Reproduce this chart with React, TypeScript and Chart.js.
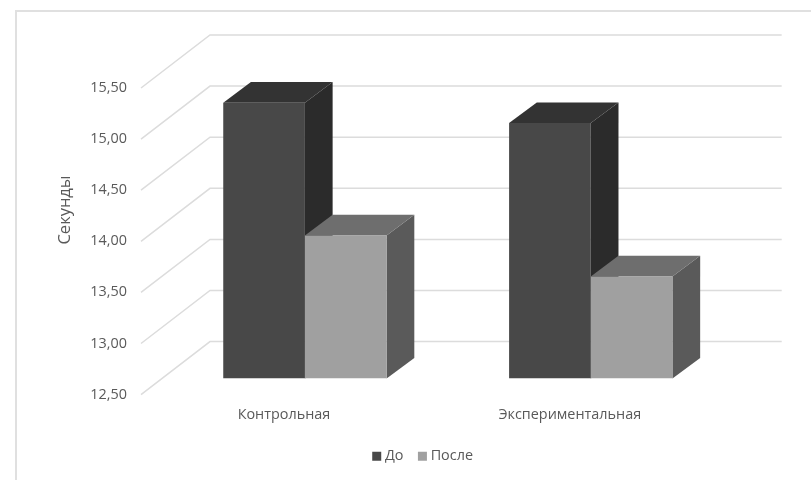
import React, { useEffect, useRef } from "react";
import { Chart, registerables } from "chart.js";

Chart.register(...registerables);

const categories = ["Контрольная", "Экспериментальная"];
const seriesNames = ["До", "После"];
const beforeValues = [15.2, 15.0];
const afterValues = [13.9, 13.5];
const axisTitle = "Секунды";
const axisMin = 12.5;
const axisMax = 15.5;

const FONT = '"Open Sans", sans-serif';
const TEXT = "#595959";
const GRID = "#dcdcdc";

// Per-series shades for the three visible faces of each box.
const frontColors = ["#484848", "#a0a0a0"];
const topColors = ["#333333", "#6e6e6e"];
const sideColors = ["#2b2b2b", "#5a5a5a"];

// Perspective offsets relative to the plane of the bars' front faces.
const wallFront = { dx: -21, dy: 16 };
const wallBack = { dx: 48, dy: -37 };
const barDepth = { dx: 27.7, dy: -20.7 };

const polygon = (ctx: CanvasRenderingContext2D, pts: number[][], fill: string) => {
  ctx.fillStyle = fill;
  ctx.beginPath();
  pts.forEach(([x, y], i) => (i ? ctx.lineTo(x, y) : ctx.moveTo(x, y)));
  ctx.closePath();
  ctx.fill();
};

const walls = {
  id: "walls",
  beforeDatasetsDraw(chart: any) {
    const { ctx, chartArea, scales } = chart;
    ctx.save();
    // Chart frame: only the top and left edges are visible
    ctx.strokeStyle = "#e0e0e0";
    ctx.lineWidth = 2;
    ctx.beginPath();
    ctx.moveTo(16, 480);
    ctx.lineTo(16, 11);
    ctx.lineTo(811, 11);
    ctx.stroke();
    // Gridlines run along the side wall, then across the back wall
    ctx.strokeStyle = GRID;
    ctx.lineWidth = 1.5;
    for (const tick of scales.y.ticks) {
      const y = scales.y.getPixelForValue(tick.value);
      ctx.beginPath();
      ctx.moveTo(chartArea.left + wallFront.dx, y + wallFront.dy);
      ctx.lineTo(chartArea.left + wallBack.dx, y + wallBack.dy);
      ctx.lineTo(chartArea.right + wallBack.dx, y + wallBack.dy);
      ctx.stroke();
    }
    ctx.restore();
  },
};

const boxes = {
  id: "boxes",
  beforeDatasetsDraw(chart: any) {
    const { ctx } = chart;
    const { dx, dy } = barDepth;
    ctx.save();
    chart.data.datasets.forEach((_: unknown, d: number) => {
      chart.getDatasetMeta(d).data.forEach((bar: any) => {
        const { x, y, base, width } = bar.getProps(["x", "y", "base", "width"], true);
        const l = x - width / 2;
        const r = x + width / 2;
        polygon(ctx, [[r, y], [r + dx, y + dy], [r + dx, base + dy], [r, base]], sideColors[d]);
        polygon(ctx, [[l, y], [l + dx, y + dy], [r + dx, y + dy], [r, y]], topColors[d]);
      });
    });
    ctx.restore();
  },
};

// The legend sits centred under the floor of the box, right of the canvas middle.
const legendShift = {
  id: "legendShift",
  afterLayout(chart: any) {
    chart.legend.left += 57.5;
    chart.legend.right += 57.5;
  },
};

const yTitle = {
  id: "yTitle",
  afterDraw(chart: any) {
    const { ctx } = chart;
    ctx.save();
    ctx.translate(65, 210);
    ctx.rotate(-Math.PI / 2);
    ctx.font = `16.5px ${FONT}`;
    ctx.fillStyle = TEXT;
    ctx.textAlign = "center";
    ctx.textBaseline = "middle";
    ctx.fillText(axisTitle, 0, 0);
    ctx.restore();
  },
};

export default function App() {
  const ref = useRef<HTMLCanvasElement>(null);

  useEffect(() => {
    const chart = new Chart(ref.current!, {
      type: "bar",
      data: {
        labels: categories,
        datasets: [
          { label: seriesNames[0], data: beforeValues, base: axisMin, backgroundColor: frontColors[0] },
          { label: seriesNames[1], data: afterValues, base: axisMin, backgroundColor: frontColors[1] },
        ],
      },
      options: {
        animation: false,
        responsive: false,
        categoryPercentage: 0.5715,
        barPercentage: 1,
        layout: { padding: { left: 0, right: 77.3, top: 72, bottom: 6.5 } },
        plugins: {
          tooltip: { enabled: false },
          legend: {
            position: "bottom",
            labels: {
              usePointStyle: true,
              pointStyle: "rect",
              boxWidth: 2,
              boxHeight: 9,
              padding: 18,
              color: TEXT,
              font: { family: FONT, size: 14.4 },
            },
          },
        },
        scales: {
          x: {
            grid: { display: false, drawTicks: false },
            border: { display: false },
            afterFit: (s: any) => {
              s.height = 52.5;
            },
            ticks: {
              color: TEXT,
              padding: 28,
              labelOffset: -21,
              maxRotation: 0,
              font: { family: FONT, size: 14.4 },
            },
          },
          y: {
            min: axisMin,
            max: axisMax,
            grid: { display: false, drawTicks: false },
            border: { display: false },
            afterFit: (s: any) => {
              s.width = 162;
            },
            ticks: {
              stepSize: 0.5,
              color: TEXT,
              padding: 35,
              labelOffset: 16,
              font: { family: FONT, size: 14.4 },
              callback: (v: any) => Number(v).toFixed(2).replace(".", ","),
            },
          },
        },
      },
      plugins: [walls, boxes, legendShift, yTitle],
    } as any);
    return () => chart.destroy();
  }, []);

  return (
    <div style={{ position: "fixed", left: 0, top: 0, width: 811, height: 480, background: "#fff" }}>
      <canvas ref={ref} width={811} height={480} style={{ display: "block" }} />
    </div>
  );
}
